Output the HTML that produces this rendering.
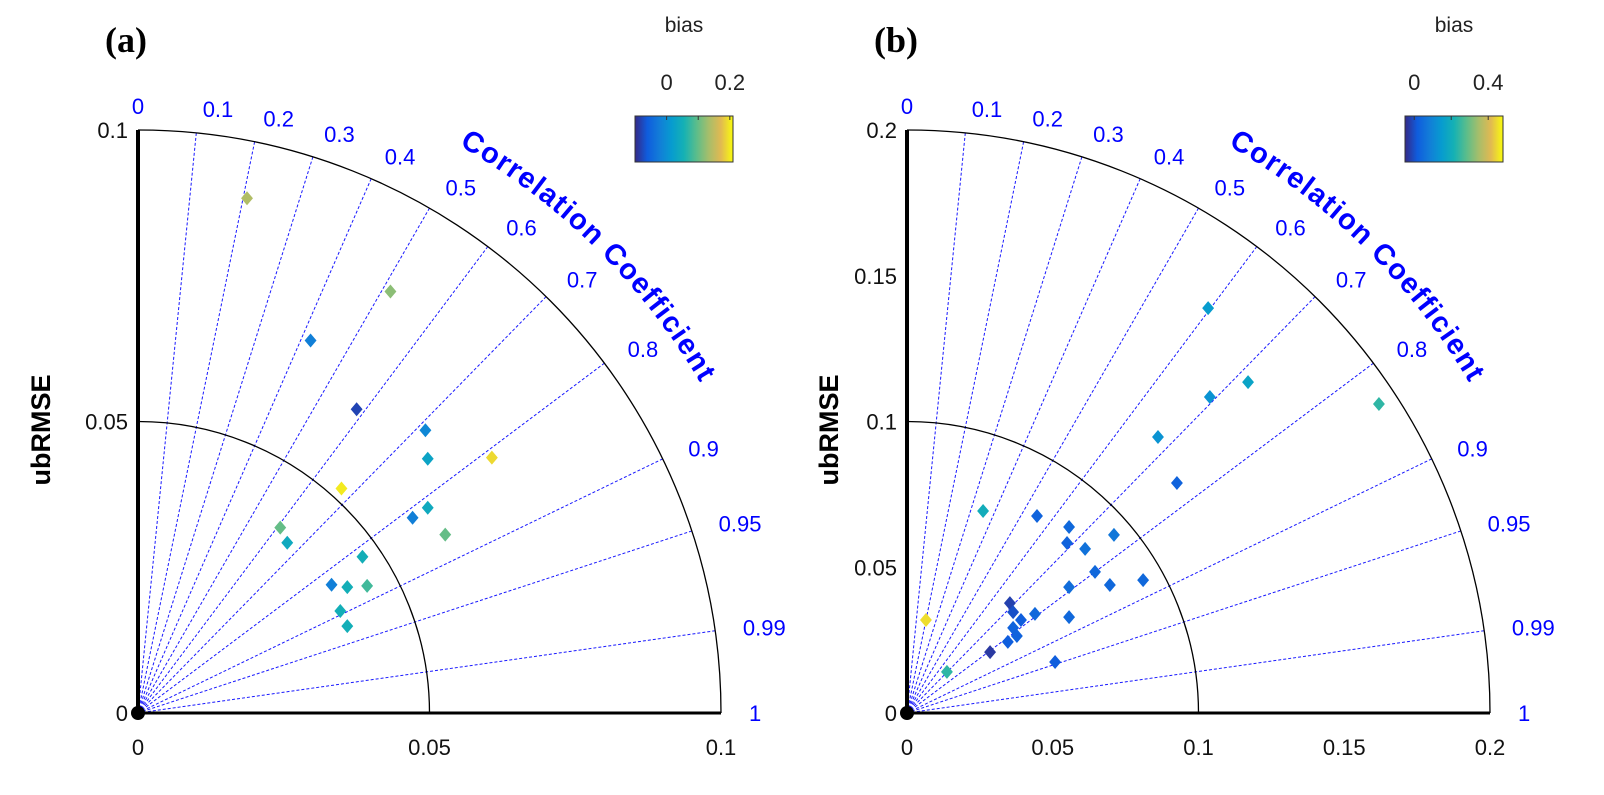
<!DOCTYPE html>
<html><head><meta charset="utf-8"><style>
body{margin:0;background:#fff}
svg{display:block;font-family:"Liberation Sans",Arial,sans-serif}
</style></head><body>
<svg id="fig" width="1604" height="795" viewBox="0 0 1604 795"></svg>
<script>
// Panel (a) data: x = std*corr, y = std*sqrt(1-corr^2), bias
const aX=[0.0187,0.0433,0.0296,0.0375,0.0493,0.0497,0.0607,0.0349,0.0497,0.0471,0.0527,0.0244,0.0256,0.0385,0.0332,0.0359,0.0393,0.0347,0.0359];
const aY=[0.0883,0.0723,0.0639,0.0521,0.0485,0.0436,0.0438,0.0385,0.0352,0.0335,0.0306,0.0318,0.0292,0.0268,0.0220,0.0216,0.0218,0.0175,0.0149];
const aBias=[0.14,0.12,-0.02,-0.08,-0.01,0.03,0.19,0.2,0.04,-0.02,0.1,0.1,0.04,0.05,-0.02,0.05,0.08,0.05,0.05];
// Panel (b) data
const bX=[0.1033,0.1170,0.1039,0.1619,0.0861,0.0926,0.0261,0.0446,0.0556,0.0549,0.0710,0.0611,0.0645,0.0556,0.0696,0.0810,0.0439,0.0556,0.0353,0.0364,0.0391,0.0364,0.0377,0.0346,0.0285,0.0508,0.0065,0.0137];
const bY=[0.1389,0.1135,0.1084,0.1060,0.0947,0.0789,0.0693,0.0676,0.0638,0.0583,0.0611,0.0563,0.0484,0.0432,0.0439,0.0456,0.0340,0.0329,0.0377,0.0346,0.0319,0.0292,0.0264,0.0244,0.0209,0.0175,0.0319,0.0141];
const bBias=[0.15,0.17,0.13,0.24,0.13,0.03,0.2,0.03,0.04,0.03,0.07,0.06,0.04,0.05,0.04,0.04,0.04,0.04,-0.02,0.0,0.02,0.03,0.03,0.02,-0.03,0.02,0.45,0.24];
const corrTicks=[0,0.1,0.2,0.3,0.4,0.5,0.6,0.7,0.8,0.9,0.95,0.99,1];
const aTicks=[0,0.05,0.1], aTickLabels=["0","0.05","0.1"];
const bTicks=[0,0.05,0.1,0.15,0.2], bTickLabels=["0","0.05","0.1","0.15","0.2"];
const aArcs=[0.05,0.1], bArcs=[0.1,0.2];
const aCbTicks=[0,0.1,0.2], aCbLabels=["0","","0.2"], aCbRange=[-0.1,0.21];
const bCbTicks=[0,0.2,0.4], bCbLabels=["0","","0.4"], bCbRange=[-0.05,0.48];

const NS="http://www.w3.org/2000/svg";
const svg=document.getElementById('fig');
function mk(tag,attrs,parent,text){const e=document.createElementNS(NS,tag);for(const k in attrs)e.setAttribute(k,attrs[k]);if(text!==undefined)e.textContent=text;(parent||svg).appendChild(e);return e;}
const stops=[[53,42,135],[15,92,221],[18,125,216],[7,156,207],[21,177,180],[89,189,140],[165,190,107],[225,185,82],[249,251,14]];
function parula(t){t=Math.max(0,Math.min(1,t));const f=t*8,i=Math.min(7,Math.floor(f)),u=f-i;const a=stops[i],b=stops[i+1];return `rgb(${a.map((v,k)=>Math.round(v+(b[k]-v)*u)).join(',')})`;}

function panel(cfg){
  const g=mk('g',{});
  
  
  const ox=cfg.ox,oy=cfg.oy,R=583,max=cfg.max;
  const sx=v=>ox+v/max*R, sy=v=>oy-v/max*R;
  corrTicks.forEach(c=>{
    const th=Math.acos(c);
    if(c>0&&c<1){const l=mk('line',{x1:ox,y1:oy,x2:ox+R*Math.cos(th),y2:oy-R*Math.sin(th),stroke:'#1a1aff','stroke-width':1,'stroke-dasharray':'3,2'},g);
      }
    const rr=R+24;
    const t=mk('text',{x:ox+rr*Math.cos(th)+(c===0?0:4),y:oy-rr*Math.sin(th)+8,fill:'#0000ff','font-size':22,'text-anchor':c===0?'middle':'start'},g,String(c));
    
  });
  cfg.arcs.forEach(a=>{const r=a/max*R;const p=mk('path',{d:`M${ox} ${oy-r} A${r} ${r} 0 0 1 ${ox+r} ${oy}`,fill:'none',stroke:'#000','stroke-width':1.3},g);
    });
  const ya=mk('line',{x1:ox,y1:oy-R,x2:ox,y2:oy,stroke:'#000','stroke-width':4},g);
  
  const xa=mk('line',{x1:ox,y1:oy,x2:ox+R,y2:oy,stroke:'#000','stroke-width':3},g);
  
  cfg.ticks.forEach((v,i)=>{
    const t1=mk('text',{x:sx(v),y:oy+42,'font-size':22,'text-anchor':'middle',fill:'#111'},g,cfg.labels[i]);
    
    const t2=mk('text',{x:ox-10,y:sy(v)+8,'font-size':22,'text-anchor':'end',fill:'#111'},g,cfg.labels[i]);
    
  });
  const yl=mk('text',{x:0,y:0,'font-size':27,'font-weight':'bold','text-anchor':'middle',transform:`translate(${ox-cfg.ylOff},430) rotate(-90)`},g,'ubRMSE');
  
  const pl=mk('text',{x:ox-33,y:52,'font-size':36,'font-weight':'bold','font-family':'"Liberation Serif",serif'},g,cfg.letter);
  
  const rr=652,a1=60.5*Math.PI/180,a2=27*Math.PI/180;
  const pid=cfg.name+'-arc';
  mk('path',{id:pid,d:`M${ox+rr*Math.cos(a1)} ${oy-rr*Math.sin(a1)} A${rr} ${rr} 0 0 1 ${ox+rr*Math.cos(a2)} ${oy-rr*Math.sin(a2)}`,fill:'none'},g);
  const tt=mk('text',{'font-size':29,'font-weight':'bold',fill:'#0000ff'},g);
  
  mk('textPath',{href:'#'+pid,textLength:342,lengthAdjust:'spacing'},tt,'Correlation Coefficient');
  cfg.xs.forEach((x,i)=>{
    const cx=sx(x),cy=sy(cfg.ys[i]),s=7;
    const t=(cfg.bias[i]-cfg.cb[0])/(cfg.cb[1]-cfg.cb[0]);
    const m=mk('polygon',{points:`${cx},${cy-s} ${cx+s*0.85},${cy} ${cx},${cy+s} ${cx-s*0.85},${cy}`,fill:parula(t)},g);
    
  });
  const od=mk('circle',{cx:ox,cy:oy,r:7,fill:'#000'},g);
  
  const cbx=cfg.cbx,cby=116,cw=98,ch=46;
  const gid=cfg.name+'-grad';
  const defs=mk('defs',{},g);const lg=mk('linearGradient',{id:gid,x1:0,x2:1,y1:0,y2:0},defs);
  for(let k=0;k<=8;k++)mk('stop',{offset:k/8,'stop-color':parula(k/8)},lg);
  const cb=mk('rect',{x:cbx,y:cby,width:cw,height:ch,fill:`url(#${gid})`,stroke:'#333','stroke-width':1},g);
  
  cfg.cbTicks.forEach((v,i)=>{const x=cbx+(v-cfg.cb[0])/(cfg.cb[1]-cfg.cb[0])*cw;
    mk('line',{x1:x,y1:cby,x2:x,y2:cby+4,stroke:'#333'},g);
    if(cfg.cbLabels[i]){const t=mk('text',{x:x,y:cby-26,'font-size':22,'text-anchor':'middle',fill:'#222'},g,cfg.cbLabels[i]);
      }});
  const bt=mk('text',{x:cbx+cw/2,y:cby-84,'font-size':21,'text-anchor':'middle',fill:'#222'},g,'bias');
  
}
panel({name:'panel-a',letter:'(a)',ox:138,oy:713,max:0.1,ylOff:88,ticks:aTicks,labels:aTickLabels,arcs:aArcs,xs:aX,ys:aY,bias:aBias,cb:aCbRange,cbTicks:aCbTicks,cbLabels:aCbLabels,cbx:635});
panel({name:'panel-b',letter:'(b)',ox:907,oy:713,max:0.2,ylOff:69,ticks:bTicks,labels:bTickLabels,arcs:bArcs,xs:bX,ys:bY,bias:bBias,cb:bCbRange,cbTicks:bCbTicks,cbLabels:bCbLabels,cbx:1405});
</script>
</body></html>
